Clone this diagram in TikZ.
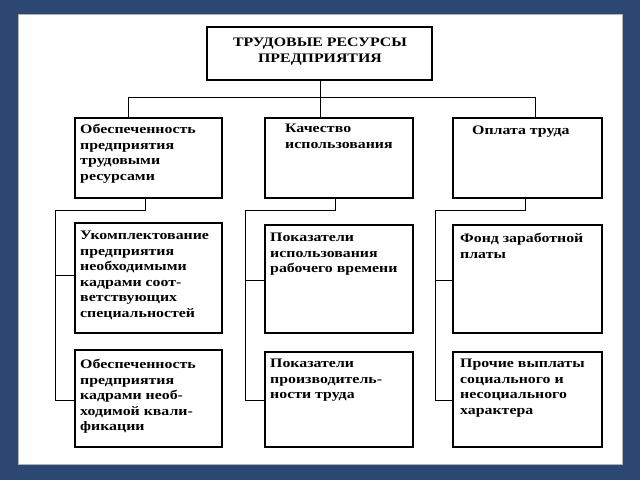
\documentclass[tikz,border=0pt]{standalone}
\usepackage{fontspec}
\setmainfont[FakeStretch=1.22]{Liberation Serif}
\begin{document}
\begin{tikzpicture}[x=1pt,y=-1pt,
  box/.style={draw,line width=1.1pt},
  txt/.style={anchor=north west,align=left,font=\bfseries\fontsize{13}{15.5}\selectfont,inner sep=0pt},
  ln/.style={line width=0.9pt}]
\definecolor{bgblue}{HTML}{2C4772}
\useasboundingbox (0,0) rectangle (640,480);
\fill[bgblue] (0,0) rectangle (640,480);
\fill[white] (18,14) rectangle (622,464);
\draw[gray!60] (18,14) rectangle (622,464);
% boxes
\draw[box] (207,27) rectangle (432,80) coordinate (t);
\node[txt,anchor=north,align=center] (top) at (320,38) {ТРУДОВЫЕ РЕСУРСЫ\\ПРЕДПРИЯТИЯ};
\draw[box] (75,118) rectangle (222,198);
\draw[box] (265,118) rectangle (413,198);
\draw[box] (453,118) rectangle (602,198);
\draw[box] (75,223) rectangle (222,333);
\draw[box] (265,225) rectangle (413,333);
\draw[box] (453,225) rectangle (602,333);
\draw[box] (75,350) rectangle (222,447);
\draw[box] (265,352) rectangle (413,447);
\draw[box] (453,352) rectangle (602,447);
\node[txt] (a1) at (80,124) {Обеспеченность\\предприятия\\трудовыми\\ресурсами};
\node[txt] (b1) at (285,124) {Качество\\использования};
\node[txt] (c1) at (472,126) {Оплата труда};
\node[txt] (a2) at (80,231) {Укомплектование\\предприятия\\необходимыми\\кадрами соот-\\ветствующих\\специальностей};
\node[txt] (b2) at (270,233) {Показатели\\использования\\рабочего времени};
\node[txt] (c2) at (460,233) {Фонд заработной\\платы};
\node[txt] (a3) at (80,359) {Обеспеченность\\предприятия\\кадрами необ-\\ходимой квали-\\фикации};
\node[txt] (b3) at (270,359) {Показатели\\производитель-\\ности труда};
\node[txt] (c3) at (460,359) {Прочие выплаты\\социального и\\несоциального\\характера};
% connectors
\coordinate (j) at (320,97);
\draw[ln] (320,80) -- (j);
\draw[ln] (128,118) -- (128,97) -- (535,97) -- (535,118);
\draw[ln] (320,97) -- (320,118);
\draw[ln] (145,198) -- (145,210) -- (55,210) -- (55,400) -- (75,400);
\draw[ln] (55,275) -- (75,275);
\draw[ln] (335,198) -- (335,210) -- (245,210) -- (245,400) -- (265,400);
\draw[ln] (245,280) -- (265,280);
\draw[ln] (525,198) -- (525,210) -- (435,210) -- (435,400) -- (453,400);
\draw[ln] (435,280) -- (453,280);
\end{tikzpicture}
\end{document}
